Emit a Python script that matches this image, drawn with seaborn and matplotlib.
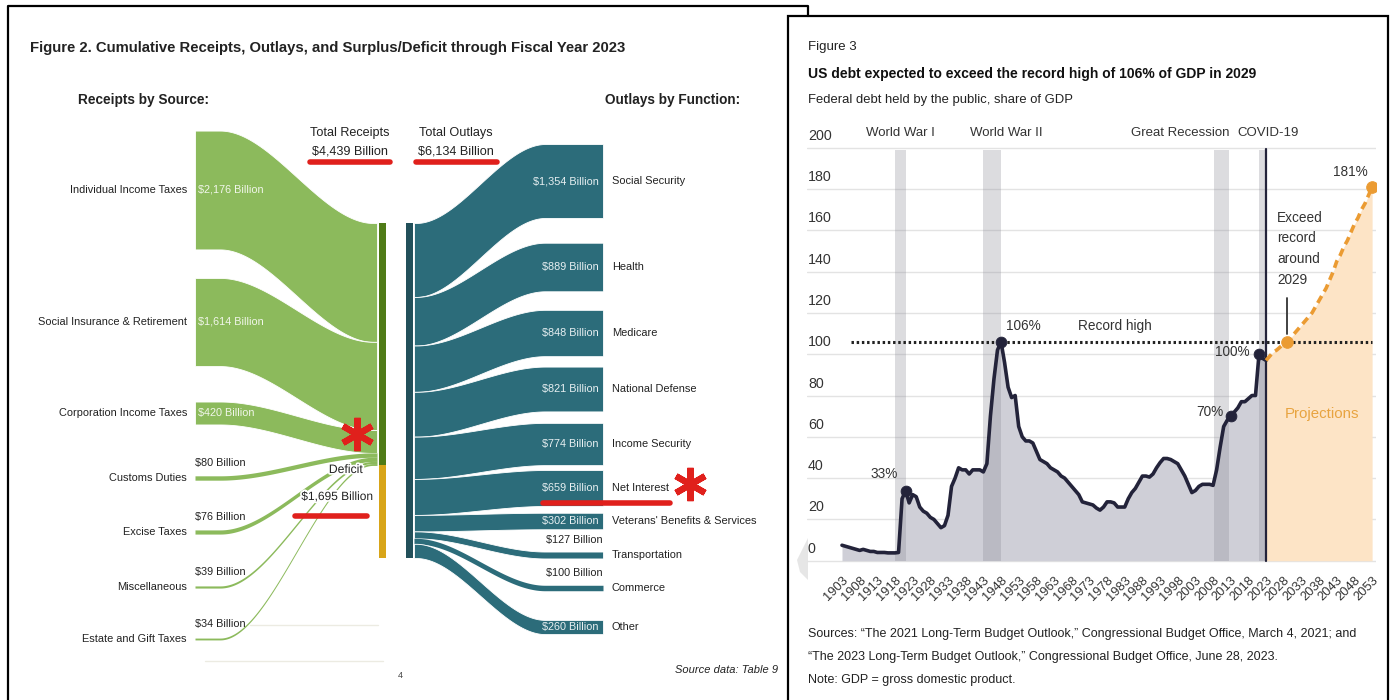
import numpy as np
import matplotlib
matplotlib.use("Agg")
import matplotlib.pyplot as plt
import matplotlib.patheffects as pe
from matplotlib.patches import Rectangle
import seaborn as sns

# ------------------------------------------------------------------
# Figure 2 data: FY2023 receipts / outlays, billions of dollars
# ------------------------------------------------------------------
receipt_sources = ["Individual Income Taxes", "Social Insurance & Retirement",
                   "Corporation Income Taxes", "Customs Duties", "Excise Taxes",
                   "Miscellaneous", "Estate and Gift Taxes"]
receipt_values = [2176, 1614, 420, 80, 76, 39, 34]
deficit_value = 1695
outlay_functions = ["Social Security", "Health", "Medicare", "National Defense",
                    "Income Security", "Net Interest", "Veterans' Benefits & Services",
                    "Transportation", "Commerce", "Other"]
outlay_values = [1354, 889, 848, 821, 774, 659, 302, 127, 100, 260]
total_receipts = 4439
total_outlays = 6134

# ------------------------------------------------------------------
# Figure 3 data: federal debt held by the public, % of GDP
# ------------------------------------------------------------------
hist_years = list(range(1903, 2024))
hist_debt = [
    7.5, 7, 6.5, 6, 5.5, 5, 5.5, 5, 4.5, 4.5,            # 1903-1912
    4, 4, 4, 3.8, 3.8, 3.8, 4, 30, 34, 28,                # 1913-1922
    32, 31, 26, 24, 23, 21, 20, 18, 16, 17,               # 1923-1932
    22, 36, 40, 45, 44, 44, 42, 44, 44, 44,               # 1933-1942
    43, 47, 70, 88, 102, 106, 96, 84, 79, 80,             # 1943-1952
    65, 60, 58, 58, 57, 53, 49, 48, 47, 45,               # 1953-1962
    44, 43, 41, 40, 38, 36, 34, 32, 28.5, 28,             # 1963-1972
    27.5, 27, 25.5, 24.5, 26, 28.5, 28.5, 28, 26, 26,     # 1973-1982
    26, 30, 33, 35, 38, 41, 41, 40.5, 42, 45,             # 1983-1992
    47.5, 49.5, 49.5, 49, 48, 47, 44, 41, 37, 33,         # 1993-2002
    34, 36, 37, 37, 37, 36.5, 44, 55, 65, 68,             # 2003-2012
    70, 72, 74, 77, 77, 78.5, 80, 80, 100, 98,            # 2013-2022
    97,                                                   # 2023
]
proj_years = list(range(2023, 2054))
proj_debt = [
    97, 99, 101, 102, 103.5, 105, 106, 108, 110, 112,     # 2023-2032
    114, 116, 118, 120, 123, 126, 129, 132, 136, 140,     # 2033-2042
    145, 148, 152, 155, 159, 163, 166, 170, 173, 177,     # 2043-2052
    181,                                                  # 2053
]
tick_years = list(range(1903, 2054, 5))
y_ticks = list(range(0, 201, 20))
shade_names = ["World War I", "World War II", "Great Recession", "COVID-19"]
shade_starts = [1918, 1943, 2008.3, 2021]
shade_ends = [1921, 1948, 2012.5, 2023]
highlight_years = [1921, 1948, 2013, 2021]
highlight_labels = ["33%", "106%", "70%", "100%"]
proj_marks_years = [2029, 2053]
record_high = 106

# ------------------------------------------------------------------
# Styling
# ------------------------------------------------------------------
sns.set_theme(style="white")
REG = ["Liberation Sans", "DejaVu Sans"]
plt.rcParams["font.family"] = REG

GREEN, GREEN_NODE, GOLD = "#8cba5c", "#4f7b17", "#d8a519"
TEAL, TEAL_NODE = "#2c6c7a", "#22505a"
RED = "#e0201c"
NAVY = "#23233a"
ORANGE = "#eb9b32"
DARK = "#222222"
HALO = [pe.withStroke(linewidth=2.5, foreground="white")]

W, H = 1390, 700
fig = plt.figure(figsize=(W / 100, H / 100), dpi=100)
canvas = fig.add_axes([0, 0, 1, 1])
canvas.set_xlim(0, W)
canvas.set_ylim(H, 0)
canvas.axis("off")

# panel frames
canvas.plot([8, 8, 808, 808], [702, 6, 6, 16], color="black", lw=1.6)
canvas.add_patch(Rectangle((788, 16), 600, 700, fc="white", ec="black", lw=1.6, zorder=0.5))
# faint carousel chevron on the right panel edge
canvas.fill([808, 797, 800, 808], [538, 560, 572, 580], color="#e6e6e6", lw=0, zorder=0.6)


def sankey_band(ax, x0, y0, x1, y1, h, color, flat0=0, flat1=0, n=90):
    """Smooth band of constant thickness h from (x0, y0) to (x1, y1) (top edges)."""
    xs = np.linspace(x0 + flat0, x1 - flat1, n)
    t = (xs - xs[0]) / (xs[-1] - xs[0])
    s = t * t * (3 - 2 * t)
    top = y0 + (y1 - y0) * s
    xs = np.concatenate([[x0], xs, [x1]])
    top = np.concatenate([[y0], top, [y1]])
    lw = 0.6 if h > 6 else 0
    ax.fill_between(xs, top, top + h, facecolor=color, edgecolor="white", lw=lw, zorder=2)


# ------------------------------------------------------------------
# Figure 2 (Sankey)
# ------------------------------------------------------------------
K = 335.0 / total_outlays  # pixels per billion
node_top = 223

canvas.text(30, 48, "Figure 2. Cumulative Receipts, Outlays, and Surplus/Deficit through Fiscal Year 2023",
            fontsize=10.7, fontweight="bold", color=DARK, va="center")
canvas.text(78, 100, "Receipts by Source:", fontsize=9.8, fontweight="bold", color=DARK, va="center")
canvas.text(740, 100, "Outlays by Function:", fontsize=9.8, fontweight="bold", color=DARK,
            va="center", ha="right")

canvas.text(350, 133, "Total Receipts", fontsize=9.1, ha="center", va="center", color=DARK)
canvas.text(350, 152, f"${total_receipts:,} Billion", fontsize=9.1, ha="center", va="center", color=DARK)
canvas.text(456, 133, "Total Outlays", fontsize=9.1, ha="center", va="center", color=DARK)
canvas.text(456, 152, f"${total_outlays:,} Billion", fontsize=9.1, ha="center", va="center", color=DARK)

src_centers = [190, 322, 413, 478, 532, 587, 639]
y = node_top
for name, v, c in zip(receipt_sources, receipt_values, src_centers):
    h = v * K
    sankey_band(canvas, 195, c - h / 2, 377, y, h, GREEN, flat0=25, flat1=4)
    y += h
    canvas.text(187, c, name, fontsize=7.9, ha="right", va="center", color=DARK)
    if v >= 400:
        canvas.text(198, c, f"${v:,} Billion", fontsize=7.8, ha="left", va="center", color="#f1f6ea")
    else:
        canvas.text(195, c - 15, f"${v:,} Billion", fontsize=7.8, ha="left", va="center", color=DARK)
rec_bottom = y
canvas.fill_between([379, 386], node_top, rec_bottom, color=GREEN_NODE, lw=0, zorder=2)
canvas.fill_between([379, 386], rec_bottom, rec_bottom + deficit_value * K, color=GOLD, lw=0, zorder=2)
canvas.text(346, 470, "Deficit", fontsize=8.8, ha="center", va="center", color=DARK,
            path_effects=HALO, zorder=3)
canvas.text(337, 497, f"${deficit_value:,} Billion", fontsize=8.6, ha="center", va="center",
            color=DARK, path_effects=HALO, zorder=3)

# faint leftover rules
canvas.plot([250, 378], [625, 625], color="#ecebe2", lw=1)
canvas.plot([205, 383], [661, 661], color="#ecebe2", lw=1)

out_centers = [181, 267, 333, 389, 444, 488, 521, 555, 588, 627]
canvas.fill_between([406, 413], node_top, node_top + total_outlays * K, color=TEAL_NODE, lw=0, zorder=2)
y = node_top
for name, v, c in zip(outlay_functions, outlay_values, out_centers):
    h = v * K
    sankey_band(canvas, 414, y, 603, c - h / 2, h, TEAL, flat0=2, flat1=58)
    y += h
    canvas.text(612, c, name, fontsize=7.9, ha="left", va="center", color=DARK)
    if v >= 200:
        canvas.text(599, c, f"${v:,} Billion", fontsize=7.8, ha="right", va="center", color="#e8f0f2")
    else:
        canvas.text(603, c - 15, f"${v:,} Billion", fontsize=7.8, ha="right", va="center", color=DARK)

canvas.text(400, 676, "4", fontsize=6.5, ha="center", va="center", color="#444444")
canvas.text(778, 670, "Source data: Table 9", fontsize=8, style="italic", ha="right", va="center", color=DARK)

# red hand annotations
for xs, ys in [([310, 390], [162, 162]), ([416, 497], [162, 162]),
               ([295, 367], [516, 516]), ([543, 670], [503, 503])]:
    canvas.plot(xs, ys, color=RED, lw=4, solid_capstyle="round", zorder=3)
for px, py in [(357, 434), (690, 484)]:
    canvas.plot(px, py, marker=(6, 2, 0), ms=24, mew=4.5, color=RED, zorder=4)

# ------------------------------------------------------------------
# Figure 3 (line chart)
# ------------------------------------------------------------------
canvas.text(808, 47, "Figure 3", fontsize=9.5, va="center", color=DARK)
canvas.text(808, 74, "US debt expected to exceed the record high of 106% of GDP in 2029",
            fontsize=10, fontweight="bold", va="center", color="#111111")
canvas.text(808, 100, "Federal debt held by the public, share of GDP", fontsize=9.4,
            va="center", color=DARK)
src_lines = ["Sources: \u201cThe 2021 Long-Term Budget Outlook,\u201d Congressional Budget Office, March 4, 2021; and",
             "\u201cThe 2023 Long-Term Budget Outlook,\u201d Congressional Budget Office, June 28, 2023.",
             "Note: GDP = gross domestic product."]
for i, line in enumerate(src_lines):
    canvas.text(808, 634 + 23 * i, line, fontsize=9.0, va="center", color=DARK)

ax = fig.add_axes([807 / W, (H - 562.8) / H, (1376 - 807) / W, (562.8 - 139.4) / H])
ax.set_xlim(1893.1, 2054.1)
ax.set_ylim(-1, 204)
ax.patch.set_alpha(0)
for sp in ax.spines.values():
    sp.set_visible(False)

ax.set_yticks(y_ticks)
ax.grid(axis="y", color="#e3e3e3", lw=1)
ax.grid(axis="x", visible=False)
ax.set_axisbelow(True)
ax.tick_params(axis="y", left=False, labelleft=False)
ax.tick_params(axis="x", bottom=False, pad=2)
for t in y_ticks:
    ax.annotate(f"{t}", xy=(0, t), xycoords=ax.get_yaxis_transform(), xytext=(1, 12),
                textcoords="offset pixels", ha="left", va="center", fontsize=10.3,
                color="#333333")
ax.set_xticks(tick_years)
ax.set_xticklabels([str(yr) for yr in tick_years], rotation=45, ha="right", va="top",
                   rotation_mode="anchor", fontsize=9.3, color="#333333")

# fills
ax.fill_between(hist_years, 0, hist_debt, color="#cfcfd7", lw=0, zorder=1)
ax.fill_between(proj_years, 0, proj_debt, color="#fde4c6", lw=0, zorder=1)
for a, b in zip(shade_starts, shade_ends):
    ax.fill_between([a, b], 0, 199, color="#8c8c98", alpha=0.3, lw=0, zorder=2)

# shade labels above the plot
for name, xc in zip(shade_names, [1919.4, 1949.4, 1998.7, 2023.6]):
    ax.text(xc, 207, name, ha="center", va="center", fontsize=9.5,
            color="#333333", clip_on=False)

# record high + covid divider
ax.plot([1905.5, 2053], [record_high, record_high], color=DARK, lw=2.2,
        linestyle=(0, (0.8, 0.9)), zorder=3)
ax.plot([2023, 2023], [0, 199.2], color=NAVY, lw=1.6, zorder=4)

sns.lineplot(x=hist_years, y=hist_debt, ax=ax, color=NAVY, linewidth=2.6, zorder=5)
sns.lineplot(x=proj_years, y=proj_debt, ax=ax, color=ORANGE, linewidth=2.6,
             linestyle=(0, (2.2, 1.4)), zorder=5)
ax.set_xlabel("")
ax.set_ylabel("")

hist_lookup = dict(zip(hist_years, hist_debt))
proj_lookup = dict(zip(proj_years, proj_debt))
sns.scatterplot(x=highlight_years, y=[hist_lookup[yr] for yr in highlight_years], ax=ax,
                s=60, color=NAVY, edgecolor=NAVY, zorder=6)
sns.scatterplot(x=proj_marks_years, y=[proj_lookup[yr] for yr in proj_marks_years], ax=ax,
                s=70, color=ORANGE, edgecolor=ORANGE, zorder=6)

offsets = [(-8, 17, "right"), (5, 16, "left"), (-7, 4, "right"), (-9, 2, "right")]
for yr, lab, (dx, dy, ha) in zip(highlight_years, highlight_labels, offsets):
    ax.annotate(lab, xy=(yr, hist_lookup[yr]), xytext=(dx, dy), textcoords="offset pixels",
                ha=ha, va="center", fontsize=9.8, color="#333333", zorder=7)

ax.text(1980.3, 113.6, "Record high", ha="center", va="center", fontsize=9.8, color="#333333")
ax.text(2026.1, 151, "Exceed\nrecord\naround\n2029", ha="left", va="center", fontsize=9.8,
        color="#333333", linespacing=1.62)
ax.plot([2029, 2029], [110, 127], color="#333333", lw=1.3, zorder=4)
ax.text(2051.9, 188.2, "181%", ha="right", va="center", fontsize=9.8, color="#333333")
ax.text(2038.9, 71, "Projections", ha="center", va="center", fontsize=10.8, color="#e8a440")

fig.savefig("out.png", dpi=100)
